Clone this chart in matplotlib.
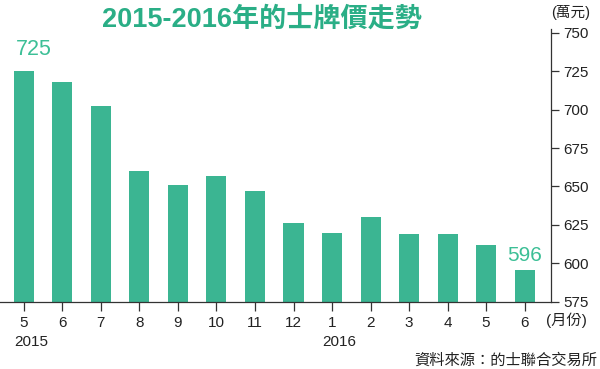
import matplotlib

matplotlib.use("Agg")
import matplotlib.pyplot as plt  # noqa: E402
from matplotlib.transforms import blended_transform_factory  # noqa: E402

plt.rcParams["font.family"] = ["Liberation Sans", "Noto Sans CJK TC", "DejaVu Sans"]

months = ["5", "6", "7", "8", "9", "10", "11", "12", "1", "2", "3", "4", "5", "6"]
prices = [725, 718, 702, 660, 651, 657, 647, 626, 620, 630, 619, 619, 612, 596]
years = {"2015": 0, "2016": 8}
yticks = [575, 600, 625, 650, 675, 700, 725, 750]

BAR = "#3bb592"
TITLE = "#2aae86"

fig = plt.figure(figsize=(6.0, 3.69), dpi=100)
ax = fig.add_axes([0.0, 0.182, 0.918, 0.74])

x = list(range(len(prices)))
ax.bar(x, prices, width=0.52, color=BAR, zorder=2)

ax.set_xlim(-0.62, 13.68)
ax.set_ylim(575, 752.5)
ax.set_xticks(x)
ax.set_xticklabels(months)
ax.set_yticks(yticks)
ax.yaxis.tick_right()

for s in ("top", "left"):
    ax.spines[s].set_visible(False)
for s in ("bottom", "right"):
    ax.spines[s].set_linewidth(0.9)
    ax.spines[s].set_color("#333333")
ax.tick_params(axis="x", length=6.5, width=0.9, pad=4, labelsize=11, colors="#333333",
               labelcolor="#222222")
ax.tick_params(axis="y", length=5.5, width=0.9, pad=3.5, labelsize=11, colors="#333333",
               labelcolor="#222222")

# first / last value labels
ax.annotate(str(prices[0]), (x[0] - 0.22, prices[0]), xytext=(0, 8), textcoords="offset points",
            ha="left", va="bottom", fontsize=15.5, color="#3cbf96")
ax.annotate(str(prices[-1]), (x[-1], prices[-1]), xytext=(0, 3), textcoords="offset points",
            ha="center", va="bottom", fontsize=15, color="#3cbf96")

# year labels under the month ticks
tr = blended_transform_factory(ax.transData, fig.transFigure)
for yr, i in years.items():
    ax.text(i + 0.18, 1 - 342 / 369, yr, transform=tr, ha="center", va="center",
            fontsize=11, color="#222222")

fig.text(262 / 600, 1 - 20 / 369, "2015-2016年的士牌價走勢", ha="center", va="center",
         fontsize=19.5, fontweight="bold", color=TITLE)
fig.text(571 / 600, 1 - 13 / 369, "(萬元)", ha="center", va="center", fontsize=10.5,
         color="#222222")
fig.text(566 / 600, 1 - 320 / 369, "(月份)", ha="center", va="center", fontsize=11,
         color="#222222")
fig.text(597 / 600, 1 - 361 / 369, "資料來源：的士聯合交易所", ha="right", va="center",
         fontsize=11, color="#222222")

fig.savefig("out.png", dpi=100)
